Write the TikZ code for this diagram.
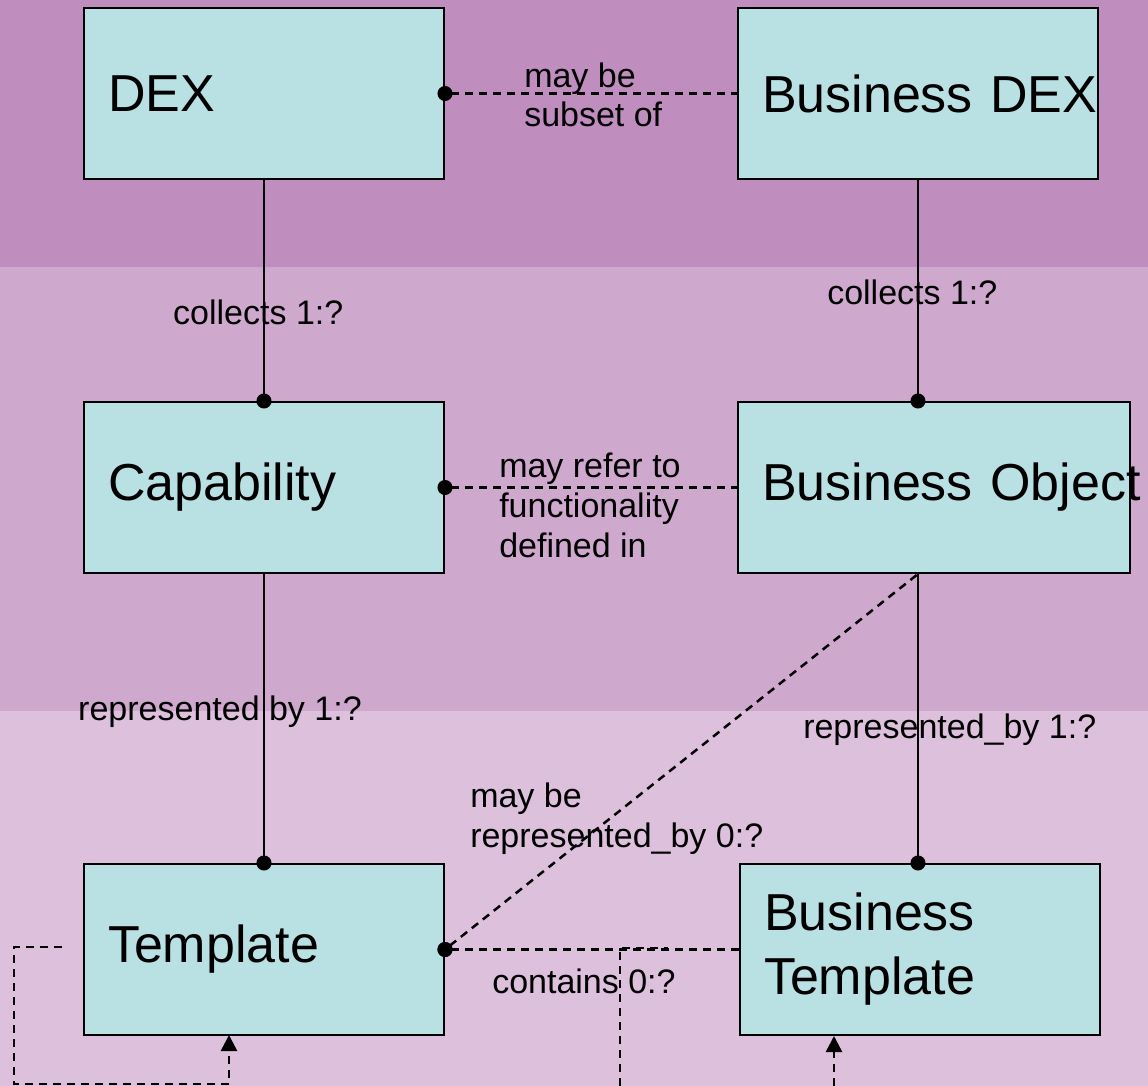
\documentclass[tikz,border=0pt]{standalone}
\usepackage{fontspec}
\setmainfont{Liberation Sans}
\usetikzlibrary{arrows.meta}
\usetikzlibrary{positioning}

\definecolor{bandtop}{RGB}{192,141,191}
\definecolor{bandmid}{RGB}{207,168,205}
\definecolor{bandlow}{RGB}{220,192,220}
\definecolor{boxfill}{RGB}{185,224,227}

\begin{document}
\begin{tikzpicture}[x=0.5pt,y=-0.5pt,line width=1.25pt,
    box node/.style={rectangle,draw,fill=boxfill,line width=1pt,minimum height=85.5pt,
      inner xsep=12pt,inner ysep=0pt,text width=156pt,align=left,
      font=\fontsize{26}{32}\selectfont},
    text node/.style={anchor=base west,inner sep=0pt,align=left,
      font=\fontsize{17}{20}\selectfont},
    dashline/.style={dash pattern=on 4pt off 3pt},
    dot start/.style={{Circle[length=7.5pt]}-,shorten <=-3.75pt},
    dot end/.style={-{Circle[length=7.5pt]},shorten >=-3.75pt},
    tip end/.style={-{Triangle[length=8pt,width=8pt]}}]

  % background bands
  \useasboundingbox (0,0) rectangle (1148,1086);
  \fill[bandtop] (0,0) rectangle (1148,267);
  \fill[bandmid] (0,267) rectangle (1148,711);
  \fill[bandlow] (0,711) rectangle (1148,1086);

  \node[box node] (dex) at (264,93.5) {DEX};
  \node[box node] (bdex) [right=146pt of dex] {\mbox{Business DEX}};
  \node[box node] (cap) [below=110.5pt of dex] {Capability};
  \node[box node,text width=172pt] (bobj) [below=110.5pt of bdex.south west,anchor=north west] {\mbox{Business Object}};
  \node[box node] (tpl) [below=144.5pt of cap] {Template};
  \node[box node] (btpl) [below=144.5pt of bobj.south west,anchor=north west,xshift=1pt] {Business\\Template};

  \draw[dashline,dot start] (dex) -- (bdex);
  \draw[dot end] (dex) -- (cap);
  \draw[dot end] (bdex) -- (bdex.south |- bobj.north);
  \draw[dashline,dot start] (cap) -- (bobj);
  \draw[dot end] (cap) -- (tpl);
  \draw[dot end] (bdex.south |- bobj.south) -- (bdex.south |- btpl.north);
  \draw[dashline,dot start] (tpl.east) -- (bdex.south |- bobj.south);
  \draw[dashline,dot start] (tpl) -- (btpl);

  % loops at the bottom
  \coordinate (tloop a) at (62,947);
  \coordinate (tloop b) at (14,1084);
  \coordinate (tloop c) at (229,1035);
  \draw[dashline,tip end] (tloop a) -| (tloop b) -| (tloop c);
  \coordinate (mloop a) at (620,1086);
  \coordinate (mloop b) at (668,948);
  \draw[dashline] (mloop a) |- (mloop b);
  \coordinate (bloop a) at (834,1086);
  \draw[dashline,tip end] (bloop a) -- (bloop a |- btpl.south);

  \node[text node] (subset) at (523,127) {may be\\subset of};
  \node[text node] (refer) at (498,557) {may refer to\\functionality\\defined in};
  \node[text node] (collects l) at (172,325) {collects 1:?};
  \node[text node] (collects r) at (826,305) {collects 1:?};
  \node[text node] (repr l) at (77,720) {represented by 1:?};
  \node[text node] (repr r) at (802,738) {represented\_by 1:?};
  \node[text node] (repr d) at (469,847) {may be\\represented\_by 0:?};
  \node[text node] (contains) at (491,993) {contains 0:?};
\end{tikzpicture}
\end{document}
